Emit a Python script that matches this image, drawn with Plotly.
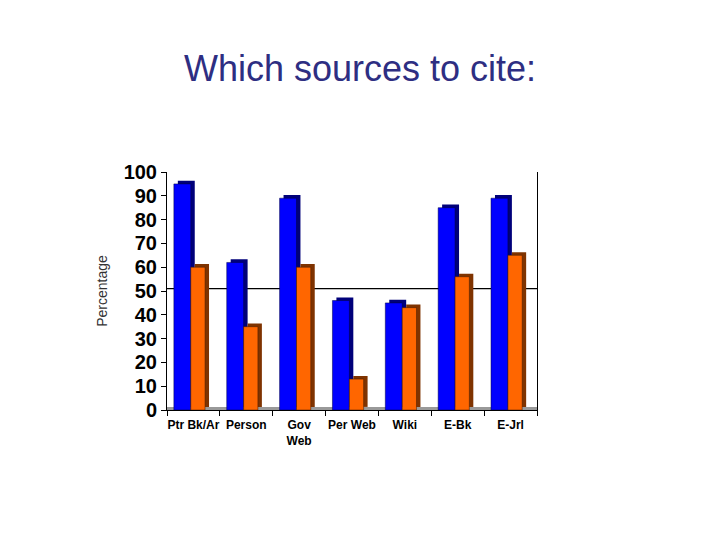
import plotly.graph_objects as go

# values
categories = ["Ptr Bk/Ar", "Person", "Gov<br>Web", "Per Web", "Wiki", "E-Bk", "E-Jrl"]
blue_values = [95, 62, 89, 46, 45, 85, 89]
orange_values = [60, 35, 60, 13, 43, 56, 65]
reference_line = 51
y_ticks = list(range(0, 101, 10))

depth_y = 1.3     # fake 3D depth, in axis units
depth_x = 0.075   # fake 3D depth, in category units

fig = go.Figure()

# blue series: side/top shadow then front face
fig.add_trace(go.Bar(
    x=categories, y=blue_values, base=depth_y,
    offset=-0.37 + depth_x, width=0.32,
    marker=dict(color="#00007A", line=dict(width=0)),
    hoverinfo="skip", showlegend=False,
))
fig.add_trace(go.Bar(
    x=categories, y=blue_values,
    offset=-0.37, width=0.32,
    marker=dict(color="#0000FF", line=dict(color="#000040", width=0.5)),
    name="Blue", showlegend=False,
))

# orange series
fig.add_trace(go.Bar(
    x=categories, y=orange_values, base=depth_y,
    offset=-0.05 + depth_x, width=0.27,
    marker=dict(color="#7F3300", line=dict(width=0)),
    hoverinfo="skip", showlegend=False,
))
fig.add_trace(go.Bar(
    x=categories, y=orange_values,
    offset=-0.05, width=0.27,
    marker=dict(color="#FF6600", line=dict(color="#401A00", width=0.5)),
    name="Orange", showlegend=False,
))

# grey floor under the bars
fig.add_shape(type="rect", xref="paper", yref="y", x0=0, x1=1, y0=0, y1=depth_y,
              fillcolor="#999999", line=dict(width=0), layer="below")

# horizontal reference line
fig.add_shape(type="line", xref="paper", yref="y", x0=0, x1=1,
              y0=reference_line, y1=reference_line,
              line=dict(color="black", width=1.2), layer="below")

# page body has an 8px margin, so the figure is a bit smaller than the window
W, H = 704, 524
fig.update_layout(
    width=W, height=H,
    barmode="overlay",
    paper_bgcolor="white", plot_bgcolor="white",
    margin=dict(l=159, r=W - 529, t=164, b=H - 402),
    font=dict(family="Liberation Sans, Arial, sans-serif", color="black"),
    title=dict(
        text="Which sources to cite:",
        x=0.5, xanchor="center", y=1 - 60 / H, yanchor="middle",
        font=dict(size=36, color="#2E2E82", family="Liberation Sans, Arial, sans-serif"),
    ),
    xaxis=dict(
        showline=True, linecolor="black", linewidth=1,
        ticks="outside", tickson="boundaries", ticklen=5, tickcolor="black",
        tickangle=0, ticklabelstandoff=4,
        tickfont=dict(size=12, weight="bold"),
        showgrid=False,
    ),
    yaxis=dict(
        range=[0, 100], tickvals=y_ticks,
        showline=True, linecolor="black", linewidth=1, mirror=True,
        ticks="outside", ticklen=5, tickcolor="black",
        tickfont=dict(size=20, weight="bold"),
        showgrid=False, zeroline=False,
        title=dict(text="Percentage", font=dict(size=14, color="#333333"), standoff=12),
    ),
)

fig.write_html("out.html")
